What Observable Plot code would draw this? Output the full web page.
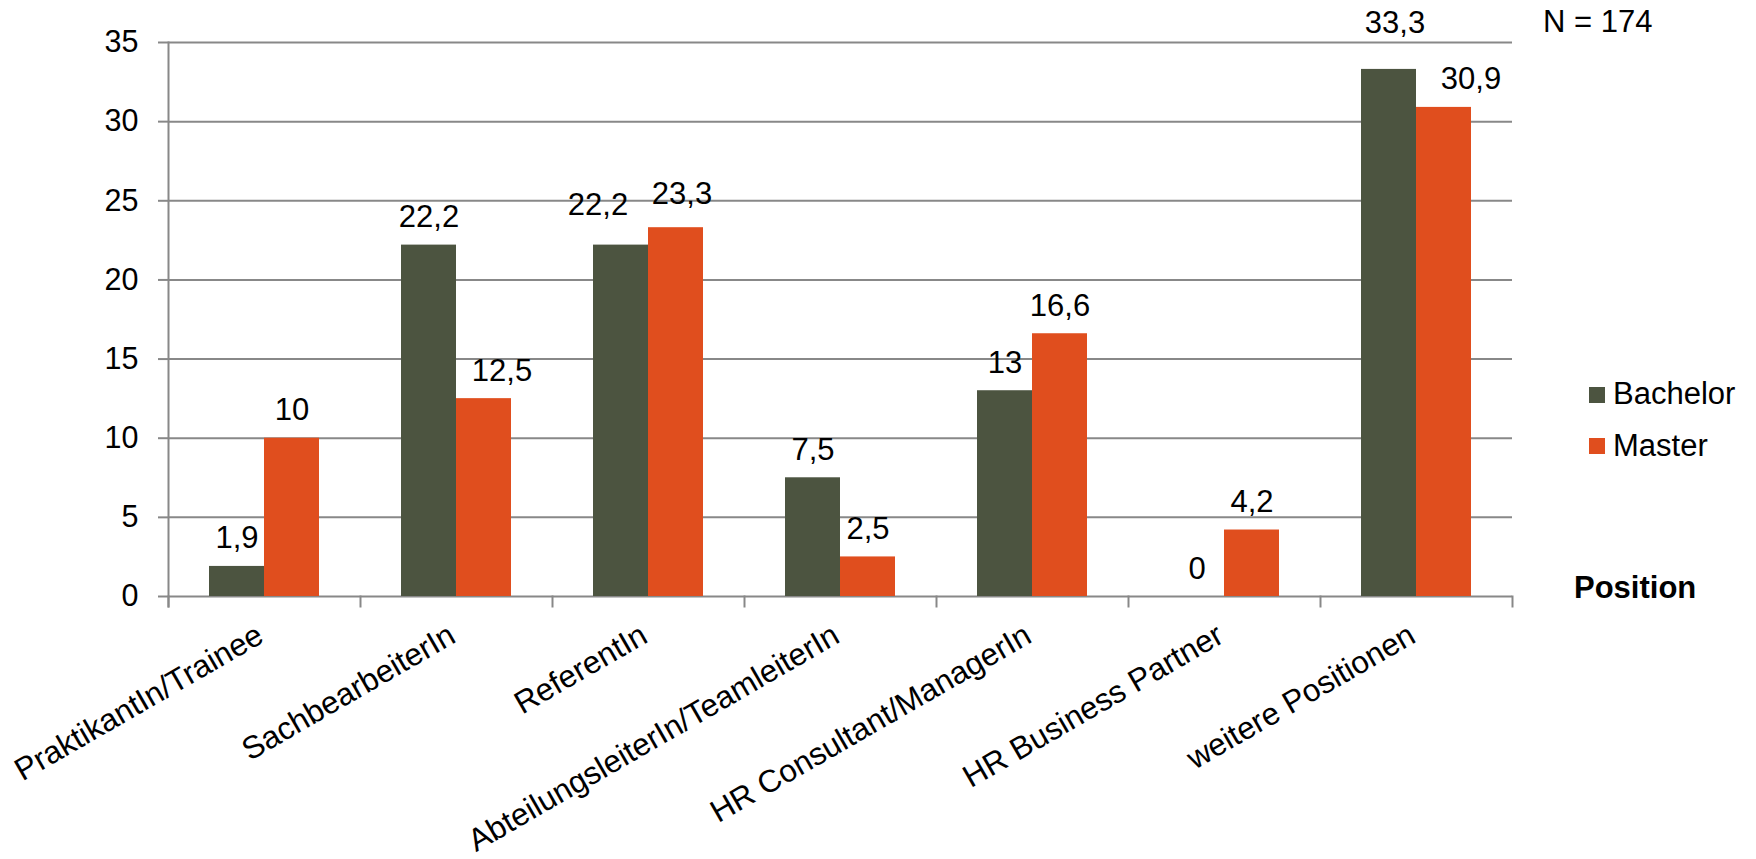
<!DOCTYPE html>
<html>
<head>
<meta charset="utf-8">
<script src="https://cdn.jsdelivr.net/npm/d3@7"></script>
<script src="https://cdn.jsdelivr.net/npm/@observablehq/plot@0.6"></script>
<style>
  html, body { margin: 0; padding: 0; background: #fff; }
  body { font-family: "Liberation Sans", Arial, sans-serif; }
  #wrap { position: relative; width: 1756px; height: 859px; }
  #wrap svg { position: absolute; left: 0; top: 0; }
  .ann { position: absolute; font-size: 31px; line-height: 31px; color: #000; white-space: nowrap; }
  .sw { position: absolute; width: 16px; height: 16px; }
</style>
</head>
<body>
<div id="wrap"></div>
<script>
const categories = [
  "PraktikantIn/Trainee",
  "SachbearbeiterIn",
  "ReferentIn",
  "AbteilungsleiterIn/TeamleiterIn",
  "HR Consultant/ManagerIn",
  "HR Business Partner",
  "weitere Positionen"
];
const seriesNames = ["Bachelor", "Master"];
const bachelor = [1.9, 22.2, 22.2, 7.5, 13, 0, 33.3];
const master = [10, 12.5, 23.3, 2.5, 16.6, 4.2, 30.9];
const seriesColors = ["#4C5440", "#E04E1E"];
const yTicks = [0, 5, 10, 15, 20, 25, 30, 35];
const sampleNote = "N = 174";
const xTitle = "Position";

const values = {Bachelor: bachelor, Master: master};
const rows = categories.flatMap((c, i) => seriesNames.map(s => ({cat: c, series: s, value: values[s][i]})));
const fmt = v => String(v).replace(".", ",");

const gray = "#888888";
const font = "'Liberation Sans', Arial, sans-serif";

const key = d => d.cat + "|" + d.series;
const nudged = new Set(["ReferentIn|Bachelor", "ReferentIn|Master", "SachbearbeiterIn|Master", "weitere Positionen|Bachelor", "weitere Positionen|Master"]);

const labelOpts = (filter, dx, dy) => ({
  filter, fx: "cat", x: "series", y: "value", text: d => fmt(d.value),
  lineAnchor: "bottom", dx, dy: -18 + dy, fontSize: 31, fill: "#000"
});

const chart = Plot.plot({
  width: 1756,
  height: 859,
  marginLeft: 168,
  marginRight: 244,
  marginTop: 42,
  marginBottom: 263,
  style: {fontFamily: font, fontSize: "30px", color: "#000", background: "transparent"},
  fx: {domain: categories, padding: 0, axis: null, label: null},
  x: {domain: seriesNames, paddingInner: 0, paddingOuter: 0.745, axis: null},
  y: {domain: [0, 35], axis: null},
  color: {domain: seriesNames, range: seriesColors},
  marks: [
    Plot.gridY(yTicks, {stroke: gray, strokeOpacity: 1, strokeWidth: 2}),
    Plot.axisY(yTicks, {anchor: "left", tickSize: 10, tickPadding: 20, stroke: gray, strokeWidth: 2, fill: "#000", fontSize: 30.5, tickFormat: d => String(d), label: null, facetAnchor: "left"}),
    Plot.frame({anchor: "left", facetAnchor: "left", stroke: gray, strokeWidth: 2, insetBottom: -10}),
    Plot.frame({anchor: "left", stroke: gray, strokeWidth: 2, insetTop: 554, insetBottom: -10}),
    Plot.frame({anchor: "right", facetAnchor: "right", stroke: gray, strokeWidth: 2, insetTop: 554, insetBottom: -10}),
    Plot.barY(rows, {fx: "cat", x: "series", y: "value", fill: "series"}),
    Plot.text(rows, labelOpts(d => !nudged.has(key(d)), 0, 0)),
    Plot.text(rows, labelOpts(d => key(d) === "ReferentIn|Bachelor", -23, -12)),
    Plot.text(rows, labelOpts(d => key(d) === "ReferentIn|Master", 6, -6)),
    Plot.text(rows, labelOpts(d => key(d) === "SachbearbeiterIn|Master", 18, 0)),
    Plot.text(rows, labelOpts(d => key(d) === "weitere Positionen|Bachelor", 6, -18)),
    Plot.text(rows, labelOpts(d => key(d) === "weitere Positionen|Master", 27, 0)),
    Plot.text(categories, {fx: d => d, text: d => d, frameAnchor: "bottom", rotate: -30, textAnchor: "end", lineAnchor: "middle", dx: -4, dy: 36, fontSize: 31.5, fill: "#000"})
  ]
});

const wrap = document.getElementById("wrap");
wrap.appendChild(chart);

function addText(txt, left, baseline, extra) {
  const el = document.createElement("div");
  el.className = "ann";
  el.textContent = txt;
  el.style.left = left + "px";
  el.style.top = (baseline - 26.2) + "px";
  if (extra) Object.assign(el.style, extra);
  wrap.appendChild(el);
}
function addSwatch(color, left, top) {
  const el = document.createElement("div");
  el.className = "sw";
  el.style.background = color;
  el.style.left = left + "px";
  el.style.top = top + "px";
  wrap.appendChild(el);
}
addText(sampleNote, 1543, 32);
seriesNames.forEach((s, i) => {
  addSwatch(seriesColors[i], 1589, 387 + i * 51);
  addText(s, 1613, 404 + i * 52);
});
addText(xTitle, 1574, 598, {fontWeight: "bold"});
</script>
</body>
</html>
